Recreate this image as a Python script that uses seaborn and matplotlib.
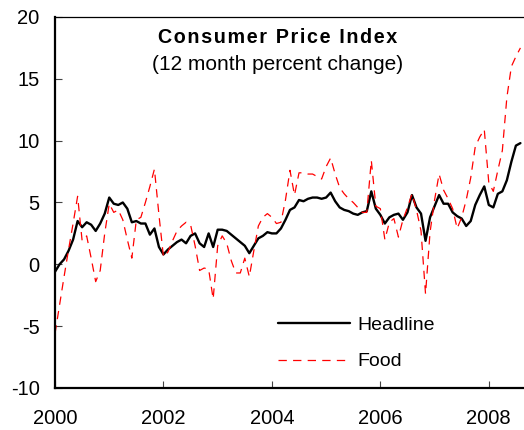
import matplotlib
matplotlib.use("Agg")
import matplotlib.pyplot as plt
import numpy as np
import pandas as pd
import seaborn as sns

# Monthly 12-month % change, Jan 2000 - Aug 2008
headline_2000 = [-0.6, 0.0, 0.4, 1.1, 2.0, 3.5, 3.0, 3.4, 3.2, 2.7, 3.3, 4.1]
headline_2001 = [5.4, 4.9, 4.8, 5.0, 4.5, 3.4, 3.5, 3.3, 3.3, 2.4, 2.9, 1.4]
headline_2002 = [0.8, 1.2, 1.5, 1.8, 2.0, 1.7, 2.3, 2.5, 1.7, 1.4, 2.5, 1.4]
headline_2003 = [2.8, 2.8, 2.7, 2.4, 2.1, 1.8, 1.5, 0.9, 1.5, 2.1, 2.3, 2.6]
headline_2004 = [2.5, 2.5, 2.9, 3.6, 4.4, 4.6, 5.2, 5.1, 5.3, 5.4, 5.4, 5.3]
headline_2005 = [5.4, 5.8, 5.1, 4.6, 4.4, 4.3, 4.1, 4.0, 4.2, 4.3, 5.9, 4.5]
headline_2006 = [4.0, 3.3, 3.8, 4.0, 4.1, 3.6, 4.2, 5.6, 4.6, 4.1, 1.9, 3.8]
headline_2007 = [4.7, 5.6, 4.9, 4.9, 4.2, 3.9, 3.7, 3.1, 3.5, 4.8, 5.6, 6.3]
headline_2008 = [4.8, 4.6, 5.7, 5.9, 6.8, 8.3, 9.6, 9.8]

food_2000 = [-5.6, -3.3, -1.0, 1.2, 3.3, 5.5, 1.9, 2.3, 0.5, -1.4, -0.5, 2.5]
food_2001 = [4.9, 4.2, 4.4, 3.6, 2.0, 0.5, 3.6, 3.8, 5.0, 6.3, 7.7, 4.0]
food_2002 = [0.6, 1.0, 1.9, 2.7, 3.1, 3.4, 3.2, 1.5, -0.5, -0.3, -0.4, -2.8]
food_2003 = [1.5, 2.3, 1.7, 0.3, -0.7, -0.7, 0.5, -1.0, 1.1, 3.1, 3.8, 4.1]
food_2004 = [3.8, 3.3, 3.4, 5.2, 7.6, 5.6, 7.4, 7.4, 7.3, 7.3, 7.1, 6.9]
food_2005 = [7.9, 8.6, 7.3, 6.2, 5.7, 5.3, 5.0, 4.6, 4.2, 4.2, 8.4, 4.7]
food_2006 = [4.5, 2.0, 3.4, 3.7, 2.2, 3.6, 4.6, 5.7, 4.4, 2.7, -2.4, 2.6]
food_2007 = [5.2, 7.3, 6.0, 5.3, 4.5, 2.9, 3.8, 5.2, 7.0, 9.5, 10.3, 10.9]
food_2008 = [6.6, 5.9, 7.6, 9.2, 13.5, 16.0, 16.8, 17.5]

headline = (headline_2000 + headline_2001 + headline_2002 + headline_2003 + headline_2004
            + headline_2005 + headline_2006 + headline_2007 + headline_2008)
food = (food_2000 + food_2001 + food_2002 + food_2003 + food_2004
        + food_2005 + food_2006 + food_2007 + food_2008)

start_year = 2000
year_ticks = [2000, 2002, 2004, 2006, 2008]
y_ticks = [-10, -5, 0, 5, 10, 15, 20]
title = "Consumer Price Index"
subtitle = "(12 month percent change)"

df = pd.DataFrame({
    "date": start_year + np.arange(len(headline)) / 12.0,
    "Headline": headline,
    "Food": food,
})

sns.set_theme(style="white")
plt.rcParams["font.family"] = ["Liberation Sans", "DejaVu Sans"]
plt.rcParams["lines.scale_dashes"] = False
plt.rcParams["axes.unicode_minus"] = False
plt.rcParams["text.color"] = "black"

fig = plt.figure(figsize=(5.24, 4.30), dpi=100)
ax = fig.add_axes([0.105, 0.0977, 0.893, 0.8628])

sns.lineplot(data=df, x="date", y="Headline", ax=ax, color="black", lw=1.7, label="Headline")
sns.lineplot(data=df, x="date", y="Food", ax=ax, color="#ff0000", lw=0.9,
             linestyle=(0, (6, 4.5)), label="Food")

ax.set_xlim(2000, 2008.63)
ax.set_ylim(-10, 20)
ax.set_xticks(year_ticks)
ax.set_yticks(y_ticks)
ax.set_xlabel("")
ax.set_ylabel("")
ax.tick_params(axis="both", direction="in", length=5, width=0.8, color="#444444",
               labelsize=14.5, labelcolor="black", bottom=True, left=True)
ax.tick_params(axis="x", pad=15)
ax.tick_params(axis="y", pad=11)

for side in ["left", "bottom"]:
    ax.spines[side].set_color("black")
    ax.spines[side].set_linewidth(1.6)
ax.spines["top"].set_color("black")
ax.spines["top"].set_linewidth(0.9)
ax.spines["right"].set_visible(False)

# letter-spaced bold title, as in the original
ax.text(0.476, 0.946, "\u200a".join(title), transform=ax.transAxes,
        ha="center", va="center", fontsize=14.2, fontweight="bold")
ax.text(0.476, 0.873, subtitle, transform=ax.transAxes,
        ha="center", va="center", fontsize=15)

ax.legend(loc="center left", bbox_to_anchor=(0.476, 0.12), frameon=False,
          fontsize=14, handlelength=3.7, handletextpad=0.4, labelspacing=0.95,
          borderpad=0, borderaxespad=0)

fig.savefig("out.png", dpi=100)
